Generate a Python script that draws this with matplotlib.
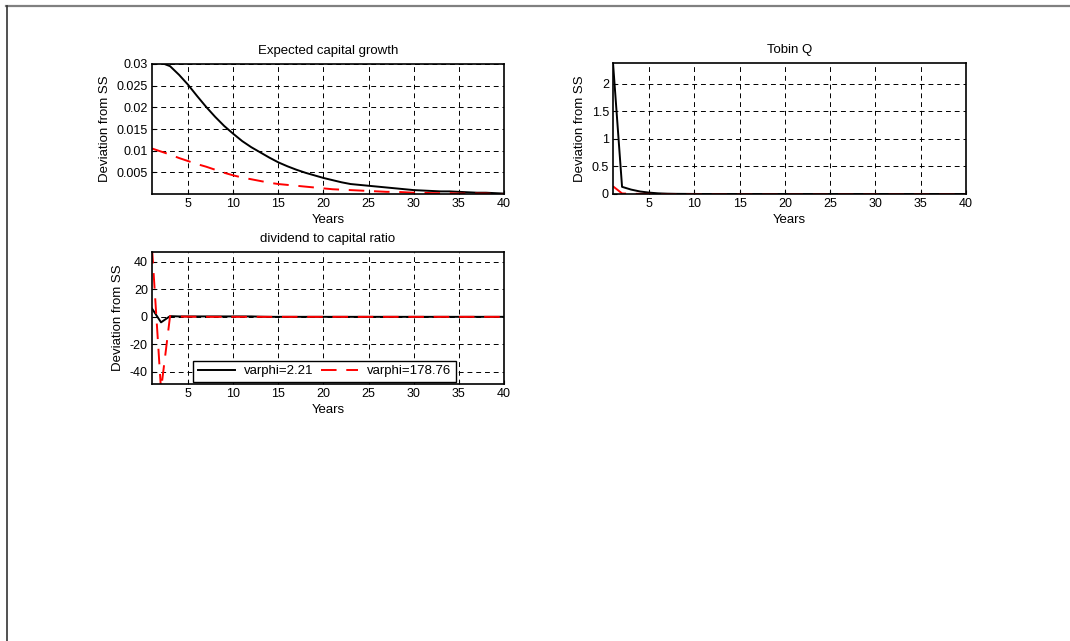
import numpy as np
import matplotlib
matplotlib.use('Agg')
from matplotlib import pyplot as plt
from matplotlib.lines import Line2D

plt.rcParams['font.family'] = ['Liberation Sans', 'DejaVu Sans']
plt.rcParams['font.size'] = 8

years = np.arange(1, 41)

# Expected capital growth
kg_low = [0.0300, 0.0303, 0.0295, 0.0275, 0.0252, 0.0226, 0.0201, 0.0178, 0.0157, 0.0139,
          0.0122, 0.0108, 0.0096, 0.0084, 0.0073, 0.0064, 0.0056, 0.0049, 0.0043, 0.0037,
          0.0032, 0.0027, 0.0023, 0.0021, 0.0019, 0.0017, 0.0015, 0.0013, 0.0011, 0.0009,
          0.0008, 0.0007, 0.0006, 0.0006, 0.0005, 0.0004, 0.0003, 0.0003, 0.0002, 0.0001]
kg_high = [0.0105, 0.0098, 0.0091, 0.0083, 0.0076, 0.0069, 0.0063, 0.0056, 0.0049, 0.0043,
           0.0038, 0.0034, 0.0030, 0.0026, 0.0023, 0.0021, 0.0019, 0.0017, 0.0015, 0.0013,
           0.0011, 0.0010, 0.0009, 0.0008, 0.0007, 0.0006, 0.0005, 0.0005, 0.0004, 0.0003,
           0.0003, 0.0002, 0.0002, 0.0002, 0.0001, 0.0001, 0.0001, 0.0001, 0.0000, 0.0000]

# Tobin Q
q_low = [2.38, 0.13, 0.08, 0.045, 0.025, 0.012, 0.006, 0.003, 0.002, 0.001] + [0.0] * 30
q_high = [0.14, 0.01, 0.005, 0.002, 0.001] + [0.0] * 35

# dividend to capital ratio
d_low = [6.0, -4.0, 0.5, 0.3, 0.3, 0.3, 0.3, 0.3, 0.3, 0.3, 0.3, 0.3, 0.1] + [0.0] * 27
d_high = [50.0, -53.0, 0.5, 0.2, 0.1, 0.05] + [0.0] * 34

labels = ['varphi=2.21', 'varphi=178.76']

W, H = 1070, 641
fig = plt.figure(figsize=(W / 100, H / 100), dpi=100)
LBL = 9.5
TCK = 9

def ax_at(x0, y0, x1, y1):
    return fig.add_axes([x0 / W, 1 - y1 / H, (x1 - x0) / W, (y1 - y0) / H])

def style(ax, title):
    ax.set_title(title, fontsize=LBL, pad=7)
    ax.set_xlabel('Years', fontsize=LBL, labelpad=3)
    ax.set_ylabel('Deviation from SS', fontsize=LBL, labelpad=4)
    ax.set_xlim(1, 40)
    ax.set_xticks([5, 10, 15, 20, 25, 30, 35, 40])
    ax.grid(True, color='black', linestyle=(0, (5, 4)), linewidth=0.7)
    ax.tick_params(direction='in', length=3, width=0.8, pad=3, labelsize=TCK)
    for s in ax.spines.values():
        s.set_linewidth(1.2)

ax1 = ax_at(152, 64, 504, 194)
ax1.plot(years, kg_low, color='black', lw=1.4)
ax1.plot(years, kg_high, color='red', lw=1.4, dashes=(8, 5))
ax1.set_ylim(0, 0.030)
ax1.set_yticks([0.005, 0.01, 0.015, 0.02, 0.025, 0.03])
ax1.set_yticklabels(['0.005', '0.01', '0.015', '0.02', '0.025', '0.03'])
style(ax1, 'Expected capital growth')

ax2 = ax_at(613, 63, 966, 194)
ax2.plot(years, q_low, color='black', lw=1.4)
ax2.plot(years, q_high, color='red', lw=1.4, dashes=(8, 5))
ax2.set_ylim(0, 2.376)
ax2.set_yticks([0, 0.5, 1, 1.5, 2])
ax2.set_yticklabels(['0', '0.5', '1', '1.5', '2'])
style(ax2, 'Tobin Q')

ax3 = ax_at(152, 252, 504, 384)
ax3.plot(years, d_low, color='black', lw=1.4, label=labels[0])
ax3.plot(years, d_high, color='red', lw=1.4, dashes=(8, 5), label=labels[1])
ax3.set_ylim(-48.7, 47)
ax3.set_yticks([-40, -20, 0, 20, 40])
ax3.set_yticklabels(['-40', '-20', '0', '20', '40'])
style(ax3, 'dividend to capital ratio')
leg = ax3.legend(loc='lower left', bbox_to_anchor=(41 / 352, 2 / 132), ncol=2, fontsize=LBL,
                 frameon=True, fancybox=False, edgecolor='black', framealpha=1,
                 handlelength=2.8, columnspacing=0.6, borderpad=0.35, handletextpad=0.7,
                 borderaxespad=0)
leg.get_frame().set_linewidth(1.0)

# outer frame lines
fig.add_artist(Line2D([6 / W, 1], [1 - 5.5 / H, 1 - 5.5 / H], color='#808080', lw=1.6))
fig.add_artist(Line2D([6.5 / W, 6.5 / W], [0, 1 - 5.5 / H], color='#333333', lw=1.2))

fig.savefig('out.png', dpi=100)
